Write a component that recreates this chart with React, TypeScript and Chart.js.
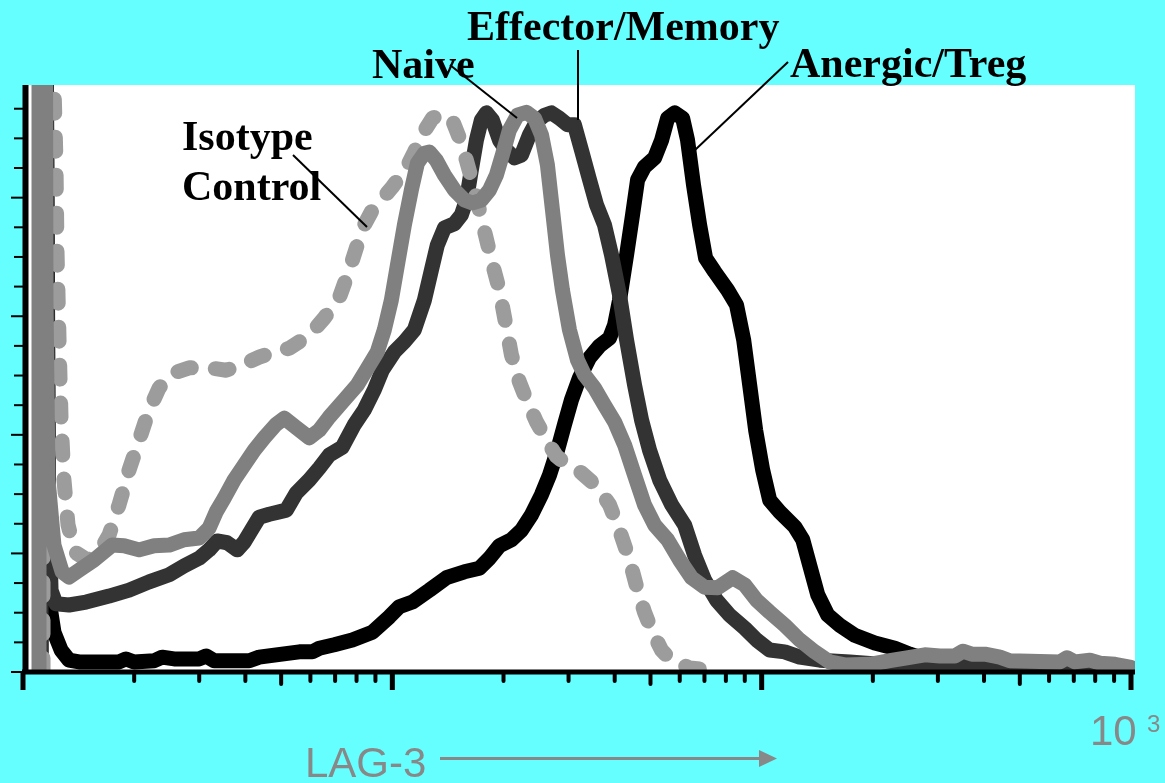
import React, { useEffect, useRef } from "react";
import { Chart, registerables } from "chart.js";

Chart.register(...registerables);

// Series: [LAG-3 fluorescence (log axis), % of max]
const NAIVE: [number, number][] = [
  [1.105, 0], [1.105, 150], [1.147, 150], [1.154, 62.7], [1.169, 32.4], [1.213, 21.4], [1.276, 16.9], [1.332, 16.0],
  [1.419, 17.2], [1.557, 18.9], [1.742, 21.4], [1.878, 21.3], [2.063, 20.6], [2.265, 21.3], [2.487, 21.4], [2.731, 22.3],
  [2.999, 22.6], [3.191, 24.3], [3.334, 27.0], [3.505, 29.3], [3.731, 32.4], [3.97, 34.9], [4.227, 37.4], [4.499, 39.5],
  [4.85, 41.8], [5.098, 42.8], [5.495, 41.2], [5.959, 39.5], [6.342, 40.8], [6.75, 43.0], [7.411, 45.9], [8.036, 48.4],
  [8.502, 50.9], [9.106, 54.0], [9.513, 57.7], [9.938, 62.7], [10.32, 68.6], [10.78, 75.4], [11.26, 81.3], [11.69, 85.8],
  [12.21, 87.5], [12.6, 87.7], [13.16, 86.3], [13.84, 83.8], [14.72, 81.3], [15.67, 79.6], [16.48, 79.1], [17.42, 79.6],
  [18.33, 81.3], [19.13, 83.8], [19.86, 87.2], [20.75, 91.4], [21.82, 93.9], [23.07, 94.4], [24.26, 93.4], [25.34, 90.6],
  [26.3, 85.5], [27.14, 77.9], [28.0, 70.3], [28.88, 64.4], [30.17, 57.7], [31.72, 52.6], [33.14, 50.1], [35.27, 47.9],
  [37.54, 45.0], [39.96, 42.2], [42.54, 38.3], [45.27, 33.2], [48.17, 28.2], [51.29, 24.8], [55.63, 22.3], [59.95, 18.9],
  [64.6, 15.9], [70.08, 14.3], [76.0, 14.2], [83.44, 15.9], [89.96, 14.7], [96.92, 12.1], [105.1, 10.1], [115.4, 7.9],
  [126.8, 5.4], [139.2, 3.4], [152.9, 1.7], [167.9, 1.2], [196.2, 1.3], [222.3, 1.9], [247.2, 2.4], [276.5, 2.9],
  [303.7, 2.7], [333.4, 2.7], [350.5, 3.5], [370.8, 3.0], [402.2, 3.0], [441.6, 2.5], [469.9, 1.9], [642.2, 1.7],
  [670.8, 2.4], [705.0, 1.7], [774.3, 2.0], [824.1, 1.5], [904.7, 1.3], [1000, 0.8],
];

const ISOTYPE: [number, number][] = [
  [1.133, 0], [1.133, 150], [1.206, 150], [1.213, 99.0], [1.228, 86.3], [1.236, 71.2], [1.252, 56.0], [1.268, 42.5],
  [1.291, 32.4], [1.324, 24.8], [1.383, 20.2], [1.491, 18.9], [1.607, 20.2], [1.71, 23.1], [1.82, 28.2], [1.938, 34.1],
  [2.063, 39.1], [2.195, 44.2], [2.337, 47.9], [2.518, 50.3], [2.818, 51.3], [3.191, 51.3], [3.549, 50.9], [3.922, 51.8],
  [4.36, 53.1], [4.789, 54.0], [5.26, 54.6], [5.959, 56.8], [6.543, 59.7], [7.184, 63.1], [7.646, 67.8], [8.036, 72.0],
  [8.396, 75.4], [8.772, 77.6], [9.337, 79.6], [10.0, 81.8], [10.91, 85.0], [11.47, 87.7], [12.06, 90.7], [12.84, 93.4],
  [13.66, 94.1], [14.54, 93.1], [15.19, 90.1], [15.87, 86.3], [16.48, 82.6], [17.21, 77.9], [17.87, 73.7], [18.55, 69.5],
  [19.5, 64.4], [20.24, 59.0], [21.01, 53.5], [22.09, 48.9], [23.22, 45.5], [24.56, 42.2], [26.15, 39.1], [27.82, 36.4],
  [29.8, 34.9], [32.52, 33.6], [35.94, 31.2], [38.73, 28.2], [41.22, 23.9], [43.88, 18.9], [46.13, 13.8], [48.17, 10.1],
  [50.65, 6.7], [53.58, 3.7], [57.04, 1.9], [63.8, 0.7], [72.31, 0.3],
];

const EFFECTOR: [number, number][] = [
  [1.119, 0], [1.119, 150], [1.147, 150], [1.169, 34.1], [1.191, 13.8], [1.228, 11.5], [1.332, 11.3], [1.482, 11.8],
  [1.71, 12.8], [1.938, 13.8], [2.195, 15.2], [2.487, 16.4], [2.731, 17.9], [2.999, 19.2], [3.191, 20.6], [3.355, 22.1],
  [3.571, 21.8], [3.801, 20.6], [3.97, 21.9], [4.149, 23.9], [4.36, 26.1], [4.642, 26.6], [4.94, 27.0], [5.162, 27.3],
  [5.495, 30.2], [5.959, 32.4], [6.342, 34.4], [6.75, 36.6], [7.318, 37.9], [7.888, 41.7], [8.396, 44.2], [8.938, 47.6],
  [9.396, 50.9], [10.13, 54.0], [10.78, 55.7], [11.47, 57.7], [12.21, 62.7], [12.76, 67.8], [13.24, 72.0], [13.84, 74.9],
  [14.72, 75.6], [15.38, 77.1], [15.87, 79.6], [16.37, 84.7], [16.89, 89.7], [17.42, 93.1], [17.98, 94.3], [18.66, 93.1],
  [19.5, 89.7], [20.37, 88.0], [21.41, 86.7], [22.37, 87.2], [23.51, 90.6], [24.56, 92.8], [25.82, 93.9], [26.97, 94.3],
  [28.35, 93.4], [29.8, 92.3], [31.12, 92.3], [32.52, 88.0], [34.2, 83.0], [35.71, 78.8], [37.54, 75.4], [39.23, 70.3],
  [41.22, 63.6], [43.07, 56.0], [45.27, 48.4], [47.29, 42.5], [49.71, 37.4], [52.92, 32.4], [57.04, 28.2], [61.85, 24.8],
  [65.82, 19.7], [70.08, 15.5], [75.51, 12.1], [81.9, 9.6], [89.96, 7.4], [96.92, 5.4], [105.1, 3.7], [115.4, 3.4],
  [126.8, 2.5], [143.6, 2.0], [173.2, 1.7], [208.8, 1.3], [268.0, 1.3], [344.1, 1.2], [441.6, 0.8], [642.2, 0.7],
  [993.8, 0.5],
];

const ANERGIC: [number, number][] = [
  [1.119, 0], [1.119, 150], [1.147, 150], [1.176, 12.1], [1.213, 6.7], [1.268, 3.7], [1.332, 2.0], [1.419, 1.7],
  [1.82, 1.7], [1.901, 2.2], [1.999, 1.7], [2.265, 1.9], [2.381, 2.5], [2.566, 2.2], [2.999, 2.2], [3.133, 2.7],
  [3.293, 1.9], [4.098, 1.9], [4.36, 2.5], [4.85, 2.9], [5.598, 3.4], [6.07, 3.4], [6.342, 4.0], [6.963, 4.6],
  [7.79, 5.4], [8.827, 6.7], [9.815, 9.3], [10.44, 11.0], [11.33, 11.8], [12.6, 13.8], [14.01, 15.9], [15.67, 16.9],
  [17.21, 17.5], [18.33, 19.2], [19.5, 21.3], [21.01, 22.3], [22.37, 23.9], [23.81, 26.5], [25.34, 29.9], [26.64, 33.2],
  [28.0, 37.4], [29.24, 41.7], [30.55, 45.9], [32.11, 49.6], [34.2, 53.0], [36.39, 55.0], [38.73, 56.3], [39.96, 58.5],
  [41.22, 62.7], [43.07, 70.3], [44.71, 77.1], [46.13, 83.0], [48.17, 85.2], [51.29, 86.7], [53.58, 89.7], [55.63, 93.4],
  [58.11, 94.3], [61.09, 93.4], [63.0, 89.7], [65.4, 82.1], [67.92, 75.4], [70.5, 69.8], [74.6, 67.5], [80.9, 64.4],
  [85.5, 61.9], [89.4, 56.0], [92.8, 48.4], [96.3, 40.8], [100.6, 34.1], [105.1, 29.0], [111.9, 27.0], [122.9, 24.5],
  [129.2, 22.3], [134.9, 18.0], [141.9, 13.0], [151.0, 9.6], [162.7, 7.9], [178.6, 6.2], [202.5, 4.9], [229.3, 4.0],
  [251.8, 3.0], [276.5, 2.2], [313.3, 1.7], [366.2, 1.3], [441.6, 1.0], [642.2, 0.8], [993.8, 0.5],
];

const SERIES_LABELS = ["Naive", "Isotype Control", "Effector/Memory", "Anergic/Treg"];
const X_MAJOR_TICKS = [1, 10, 100, 1000];
const X_MID_TICKS = [5, 50, 500];
const X_MINOR_TICKS = [2, 3, 4, 6, 7, 8, 9, 20, 30, 40, 60, 70, 80, 90, 200, 300, 400, 600, 700, 800, 900];
const Y_TICKS = [0, 5, 10, 15, 20, 25, 30, 35, 40, 45, 50, 55, 60, 65, 70, 75, 80, 85, 90, 95];
const Y_MAJOR_TICKS = [0, 20, 40, 60, 80];
const AXIS_TITLE = "LAG-3";
const AXIS_END_BASE = "10";
const AXIS_END_EXP = "3";

const decorPlugin = {
  id: "decor",
  beforeDatasetsDraw(chart: any) {
    const { ctx, chartArea: a } = chart;
    ctx.save();
    ctx.fillStyle = "#ffffff";
    ctx.fillRect(a.left, a.top, a.right + 4 - a.left, a.bottom - a.top);
    ctx.restore();
  },
  afterDraw(chart: any) {
    const { ctx, chartArea: a, scales } = chart;
    const xs = scales.x;
    const ys = scales.y;
    ctx.save();
    ctx.strokeStyle = "#000000";

    // y ticks
    ctx.lineWidth = 2;
    ctx.lineCap = "butt";
    Y_TICKS.forEach((v) => {
      const py = ys.getPixelForValue(v);
      const major = Y_MAJOR_TICKS.includes(v);
      ctx.beginPath();
      ctx.moveTo(a.left - (major ? 12 : 9), py);
      ctx.lineTo(a.left, py);
      ctx.stroke();
    });

    // y axis line
    ctx.lineWidth = 6;
    ctx.beginPath();
    ctx.moveTo(a.left + 2.5, a.top);
    ctx.lineTo(a.left + 2.5, a.bottom);
    ctx.stroke();

    // x axis line
    ctx.lineWidth = 5;
    ctx.beginPath();
    ctx.moveTo(a.left - 1, a.bottom);
    ctx.lineTo(a.right + 4, a.bottom);
    ctx.stroke();

    // x ticks
    X_MAJOR_TICKS.forEach((v) => {
      const px = xs.getPixelForValue(v);
      ctx.lineWidth = 5;
      ctx.lineCap = "butt";
      ctx.beginPath();
      ctx.moveTo(px, a.bottom);
      ctx.lineTo(px, a.bottom + 18);
      ctx.stroke();
    });
    X_MID_TICKS.forEach((v) => {
      const px = xs.getPixelForValue(v);
      ctx.lineWidth = 4;
      ctx.lineCap = "round";
      ctx.beginPath();
      ctx.moveTo(px, a.bottom);
      ctx.lineTo(px, a.bottom + 12);
      ctx.stroke();
    });
    X_MINOR_TICKS.forEach((v) => {
      const px = xs.getPixelForValue(v);
      ctx.lineWidth = 4;
      ctx.lineCap = "round";
      ctx.beginPath();
      ctx.moveTo(px, a.bottom);
      ctx.lineTo(px, a.bottom + 9);
      ctx.stroke();
    });

    // series labels with leader lines
    ctx.fillStyle = "#000000";
    ctx.font = 'bold 42px "Liberation Serif", "Times New Roman", serif';
    ctx.textBaseline = "alphabetic";
    ctx.textAlign = "left";
    ctx.fillText("Isotype", 182, 150);
    ctx.fillText("Control", 182, 200);
    ctx.fillText(SERIES_LABELS[0], 372, 78);
    ctx.fillText(SERIES_LABELS[2], 467, 40);
    ctx.fillText(SERIES_LABELS[3], 790, 77);

    ctx.lineWidth = 2;
    ctx.lineCap = "butt";
    const leader = (x1: number, y1: number, x2: number, y2: number) => {
      ctx.beginPath();
      ctx.moveTo(x1, y1);
      ctx.lineTo(x2, y2);
      ctx.stroke();
    };
    leader(293, 155, 367, 227);
    leader(450, 65, 517, 118);
    leader(578, 50, 578, 120);
    leader(788, 62, 695, 150);

    // axis title and arrow
    ctx.fillStyle = "#888888";
    ctx.strokeStyle = "#888888";
    ctx.font = '42px "Liberation Sans", Arial, sans-serif';
    ctx.fillText(AXIS_TITLE, 305, 777);
    ctx.lineWidth = 3;
    ctx.beginPath();
    ctx.moveTo(440, 758.5);
    ctx.lineTo(762, 758.5);
    ctx.stroke();
    ctx.beginPath();
    ctx.moveTo(759, 750);
    ctx.lineTo(777, 758.5);
    ctx.lineTo(759, 767);
    ctx.closePath();
    ctx.fill();

    ctx.fillText(AXIS_END_BASE, 1090, 745);
    ctx.font = '24px "Liberation Sans", Arial, sans-serif';
    ctx.fillText(AXIS_END_EXP, 1147, 732);

    ctx.restore();
  },
};

const toPoints = (arr: [number, number][]) => arr.map(([x, y]) => ({ x, y }));

export default function App() {
  const canvasRef = useRef<HTMLCanvasElement | null>(null);

  useEffect(() => {
    if (!canvasRef.current) return;
    const clip = { left: 0, top: 0, right: 4, bottom: 0 };
    const common = {
      borderWidth: 15,
      borderCapStyle: "round",
      borderJoinStyle: "round",
      pointRadius: 0,
      fill: false,
      tension: 0,
      clip,
    };
    const chart = new Chart(canvasRef.current, {
      type: "line",
      data: {
        datasets: [
          { ...common, label: SERIES_LABELS[0], data: toPoints(NAIVE), borderColor: "#808080", order: 0 },
          {
            ...common,
            label: SERIES_LABELS[1],
            data: toPoints(ISOTYPE),
            borderColor: "#9c9c9c",
            borderWidth: 15,
            borderDash: [14, 24],
            order: 1,
          },
          { ...common, label: SERIES_LABELS[2], data: toPoints(EFFECTOR), borderColor: "#333333", order: 2 },
          { ...common, label: SERIES_LABELS[3], data: toPoints(ANERGIC), borderColor: "#000000", order: 3 },
        ] as any,
      },
      options: {
        animation: false,
        responsive: false,
        maintainAspectRatio: false,
        events: [],
        layout: { padding: { left: 23, right: 34, top: 85, bottom: 111 } },
        plugins: { legend: { display: false }, tooltip: { enabled: false }, title: { display: false } },
        scales: {
          x: { type: "logarithmic", min: 1, max: 1000, display: false },
          y: { type: "linear", min: 0, max: 99, display: false },
        },
        elements: { point: { radius: 0 } },
      } as any,
      plugins: [decorPlugin],
    });
    return () => chart.destroy();
  }, []);

  return (
    <div
      style={{
        position: "fixed",
        left: 0,
        top: 0,
        width: 1165,
        height: 783,
        background: "#66FFFF",
        overflow: "hidden",
      }}
    >
      <canvas ref={canvasRef} width={1165} height={783} style={{ display: "block" }} />
    </div>
  );
}
